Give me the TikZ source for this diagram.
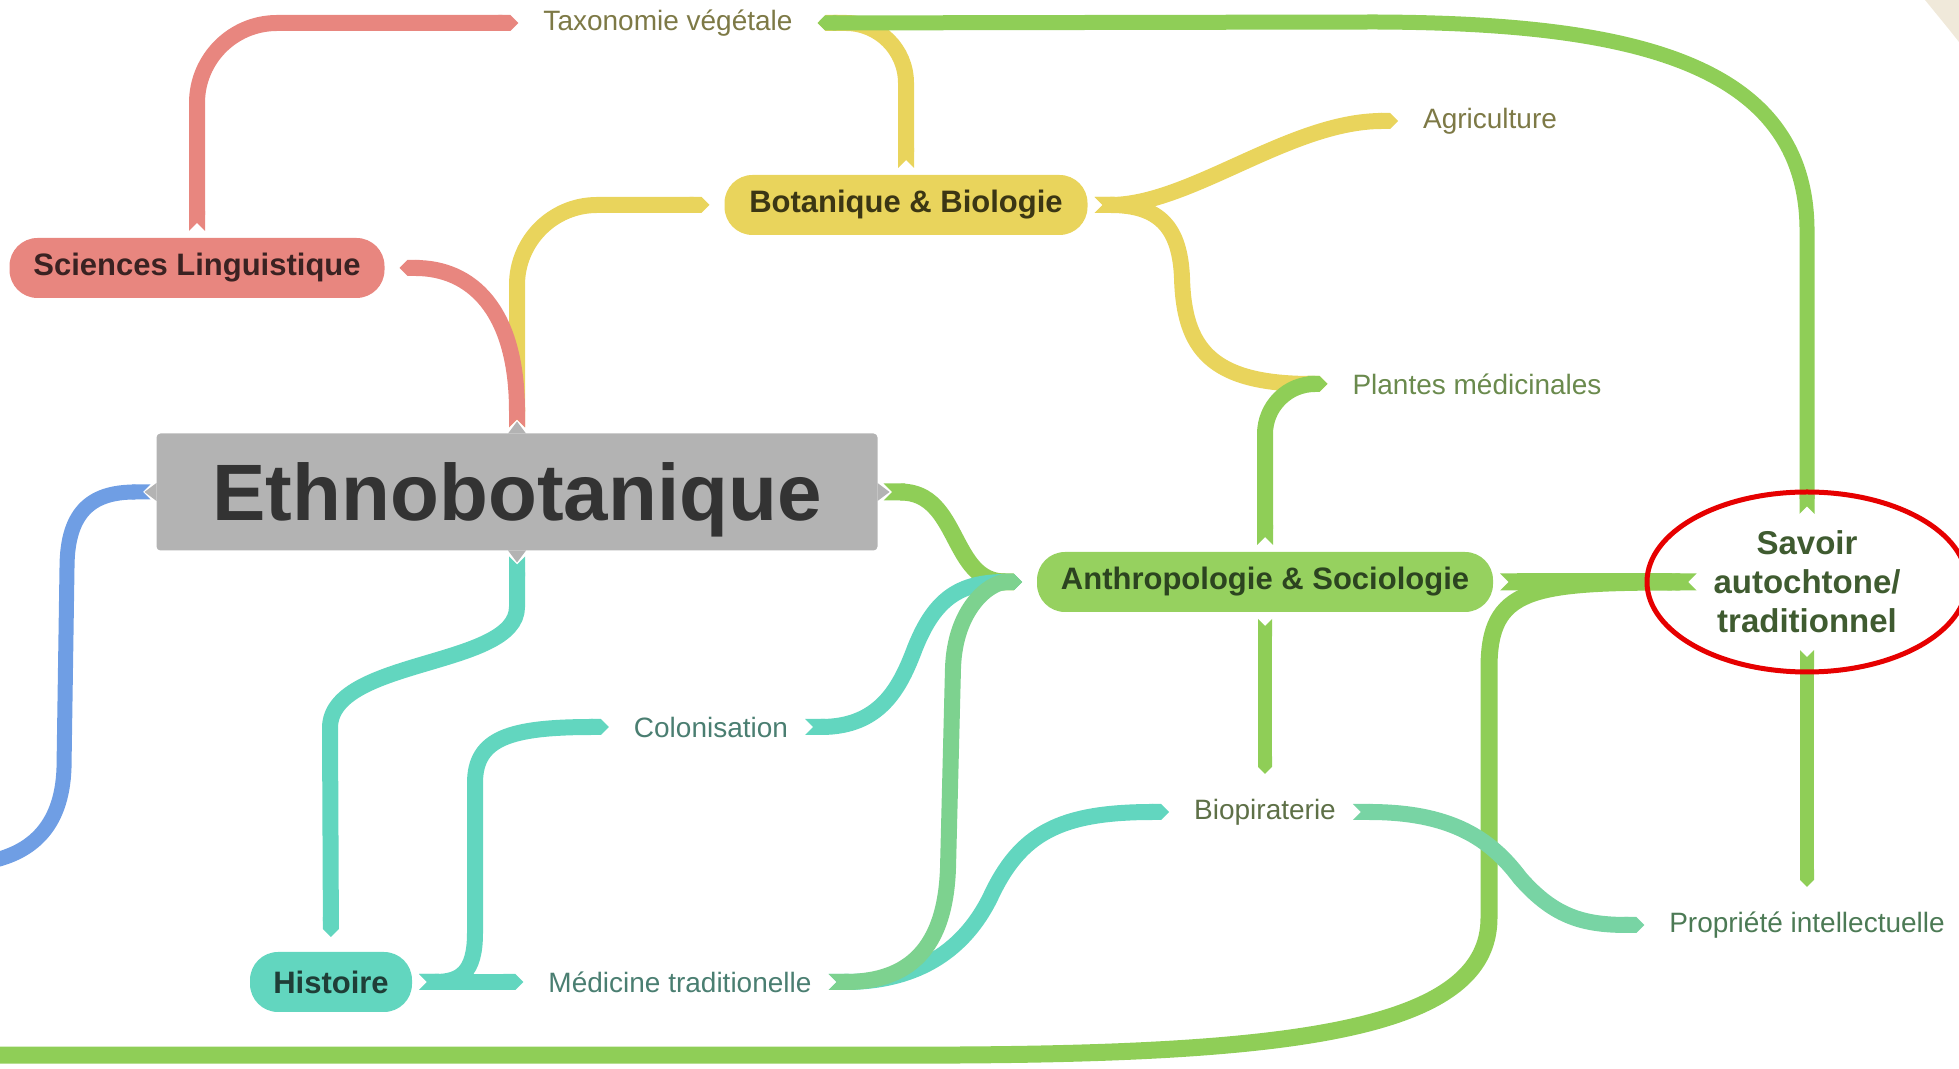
\documentclass[tikz,border=0pt]{standalone}
\usepackage{fontspec}
\setmainfont{Liberation Sans}
\usetikzlibrary{positioning, arrows.meta}

\definecolor{ethnogrey}{HTML}{B3B3B3}
\definecolor{ethnotext}{HTML}{333333}
\definecolor{lingred}{HTML}{E8867F}
\definecolor{lingtext}{HTML}{3A2222}
\definecolor{botayellow}{HTML}{E9D45C}
\definecolor{botatext}{HTML}{3B3614}
\definecolor{anthgreen}{HTML}{96D15F}
\definecolor{anthtext}{HTML}{2C4420}
\definecolor{linkgreen}{HTML}{8FCE57}
\definecolor{histteal}{HTML}{62D6BF}
\definecolor{histtext}{HTML}{1F3E37}
\definecolor{skyblue}{HTML}{6F9EE4}
\definecolor{mixgreen}{HTML}{7DD28F}
\definecolor{mixteal}{HTML}{78D4A4}
\definecolor{taxotext}{HTML}{7D7946}
\definecolor{plantext}{HTML}{6A8A4D}
\definecolor{colontext}{HTML}{4A7E71}
\definecolor{biotext}{HTML}{5E7047}
\definecolor{proptext}{HTML}{4C7A55}
\definecolor{savoirtext}{HTML}{3F5B30}
\definecolor{ringred}{HTML}{E60000}
\definecolor{cornerbeige}{HTML}{F0E9DA}

\begin{document}
\begin{tikzpicture}[x=1pt, y=1pt, on grid,
    topic/.style={rounded corners=28pt, minimum height=60pt, inner sep=0pt, outer sep=7pt, font=\fontsize{31}{36}\selectfont\bfseries},
    leaf/.style={inner sep=10pt, outer sep=7pt, font=\fontsize{28}{32}\selectfont},
    branch/.style={line width=16pt, {Triangle Cap[reversed]}-{Triangle Cap}, shorten >=8pt},
    loose/.style={line width=16pt, {Triangle Cap[reversed]}-}]

    \useasboundingbox (0,0) rectangle (1959,1068);
    \clip (0,0) rectangle (1959,1068);
    \fill[cornerbeige] (1925,1068) .. controls (1938,1052) and (1948,1040) .. (1959,1026) -- (1959,1068) -- cycle;

    \node[fill=ethnogrey, text=ethnotext, minimum width=721pt, minimum height=117pt, text depth=0pt, rounded corners=4pt, outer sep=6pt, font=\fontsize{80}{90}\selectfont\bfseries] (ethno) at (517,576) {Ethnobotanique};
    \node[topic, fill=lingred, text=lingtext, minimum width=375pt] (ling) [above left=224pt and 320pt of ethno] {Sciences Linguistique};
    \node[topic, fill=botayellow, text=botatext, minimum width=363pt] (bota) [above right=287pt and 389pt of ethno] {Botanique \& Biologie};
    \node[leaf, text=taxotext] (taxo) [above left=182pt and 238pt of bota] {Taxonomie végétale};
    \node[leaf, text=taxotext] (agri) [above right=84pt and 584pt of bota] {Agriculture};
    \node[leaf, text=plantext] (plantes) [below right=179pt and 571pt of bota] {Plantes médicinales};
    \node[topic, fill=anthgreen, text=anthtext, minimum width=456pt] (anthro) [below right=90pt and 748pt of ethno] {Anthropologie \& Sociologie};
    \node[align=center, inner sep=10pt, outer sep=7pt, text=savoirtext, font=\fontsize{33}{39}\selectfont\bfseries] (savoir) [right=542pt of anthro] {Savoir\\autochtone/\\traditionnel};
    \node[leaf, text=biotext] (biopi) [below=230pt of anthro] {Biopiraterie};
    \node[leaf, text=proptext] (propr) [below=343pt of savoir] {Propriété intellectuelle};
    \node[topic, fill=histteal, text=histtext, minimum width=162pt] (histoire) [below left=490pt and 186pt of ethno] {Histoire};
    \node[leaf, text=colontext] (medic) [right=349pt of histoire] {Médicine traditionelle};
    \node[leaf, text=colontext] (colon) [above right=255pt and 380pt of histoire] {Colonisation};

    \coordinate (offB) at (-20,205);
    \coordinate (offL) at (-20,13);

    \fill[ethnogrey] (ethno.north) ++(-9,-6) -- ++(9,12) -- ++(9,-12) -- cycle;
    \fill[ethnogrey] (ethno.south) ++(-9,6) -- ++(9,-12) -- ++(9,12) -- cycle;
    \fill[ethnogrey] (ethno.west) ++(6,-9) -- ++(-12,9) -- ++(12,9) -- cycle;
    \fill[ethnogrey] (ethno.east) ++(-6,-9) -- ++(12,9) -- ++(-12,9) -- cycle;

    % lines leaving the picture
    \draw[loose, skyblue, line width=15pt] (ethno.west) .. controls (95,576) and (67,560) .. (67,500) -- (64,300) .. controls (62,240) and (30,212) .. (offB);
    \draw[loose, linkgreen, line width=17pt] (savoir.west) .. controls (1530,486) and (1489,480) .. (1489,400) -- (1489,150) .. controls (1489,40) and (1300,15) .. (960,13) -- (offL);

    % Ethnobotanique
    \draw[branch, botayellow, rounded corners=80pt] (ethno.north) |- (bota.west);
    \draw[branch, lingred] (ethno.north) .. controls (517,760) and (470,800) .. (ling.east);
    \draw[branch, linkgreen, line width=17pt] (ethno.east) .. controls (960,576) and (950,486) .. (anthro.west);
    \draw[branch, histteal] (ethno.south) -- (517,461) .. controls (517,400) and (330,410) .. (330,340) -- (histoire.north);

    % Sciences Linguistique
    \draw[branch, lingred, rounded corners=80pt] (ling.north) |- (taxo.west);

    % Botanique
    \draw[branch, botayellow, rounded corners=60pt] (bota.north) |- (taxo.east);
    \draw[branch, botayellow] (bota.east) .. controls (1190,863) and (1290,947) .. (agri.west);
    \draw[branch, botayellow] (bota.east) .. controls (1160,863) and (1180,840) .. (1182,790) .. controls (1184,720) and (1210,684) .. (plantes.west);

    % Anthropologie
    \draw[branch, linkgreen, rounded corners=50pt] (anthro.north) |- (plantes.west);
    \draw[branch, linkgreen, line width=14pt] (anthro.south) -- (biopi.north);
    \draw[branch, linkgreen, line width=17pt] (anthro.east) -- (savoir.west);

    % Savoir
    \draw[branch, linkgreen, line width=15pt] (savoir.north) -- (1807,840) .. controls (1805,1010) and (1620,1045) .. (1375,1046) -- (taxo.east);
    \draw[branch, linkgreen, line width=14pt] (savoir.south) -- (propr.north);

    % Histoire
    \draw[branch, histteal] (histoire.east) -- (medic.west);
    \draw[branch, histteal] (histoire.east) .. controls (460,86) and (475,95) .. (475,135) -- (475,285) .. controls (475,330) and (510,341) .. (colon.west);
    \draw[branch, histteal] (colon.east) .. controls (880,341) and (900,380) .. (915,420) .. controls (935,470) and (960,486) .. (anthro.west);
    \draw[branch, histteal] (medic.east) .. controls (920,86) and (965,120) .. (990,170) .. controls (1020,235) and (1060,256) .. (biopi.west);
    \draw[branch, mixgreen] (medic.east) .. controls (900,86) and (945,110) .. (948,200) -- (953,400) .. controls (955,460) and (990,486) .. (anthro.west);

    % Biopiraterie
    \draw[branch, mixteal] (biopi.east) .. controls (1450,256) and (1490,230) .. (1520,190) .. controls (1555,150) and (1585,143) .. (propr.west);

    \draw[ringred, line width=5pt] (savoir.center) ellipse [x radius=160pt, y radius=90pt];

\end{tikzpicture}
\end{document}
